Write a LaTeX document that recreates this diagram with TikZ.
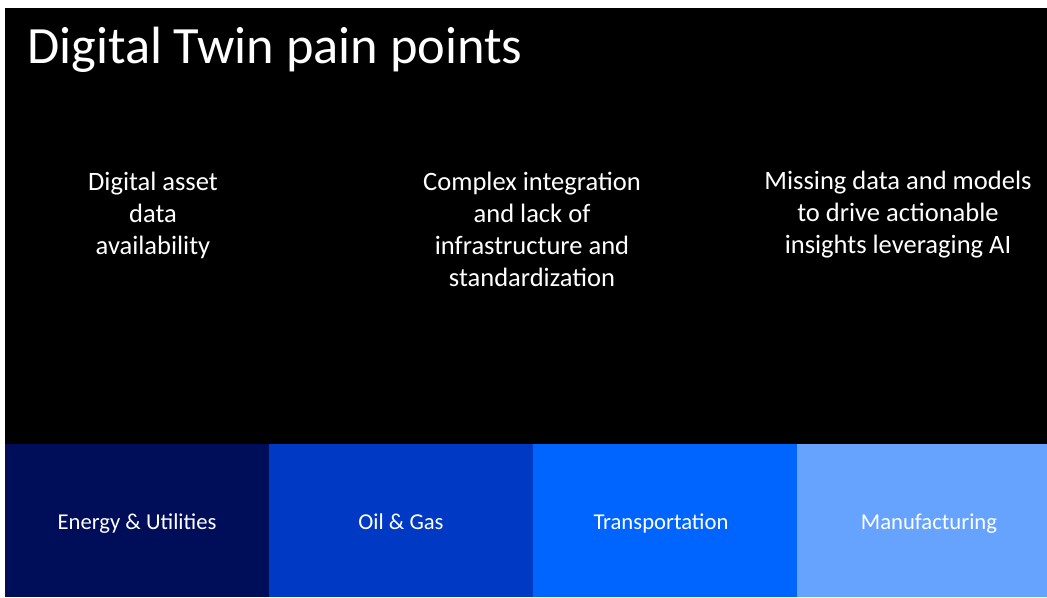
\documentclass[tikz,border=0pt]{standalone}
\usepackage{fontspec}
\setmainfont{Carlito}
\usepackage{tikz}
\usetikzlibrary{positioning}

\definecolor{navyband}{RGB}{0,14,90}
\definecolor{oilband}{RGB}{0,58,196}
\definecolor{transband}{RGB}{0,100,255}
\definecolor{manuband}{RGB}{102,163,255}

\begin{document}
\begin{tikzpicture}[x=0.75pt, y=-0.75pt]
          \tikzstyle{pain} = [text=white, align=center, font=\fontsize{19.9}{24}\selectfont, inner sep=0pt]
          \tikzstyle{sector} = [text=white, anchor=base, font=\fontsize{17}{20}\selectfont, inner sep=0pt]

          \useasboundingbox (0,0) rectangle (1047,597);
          \fill[white] (0,0) rectangle (1047,597);
          \fill[black] (5,8) rectangle (1047,444);

          % sector bands
          \fill[navyband] (5,444) rectangle (269,597);
          \fill[oilband] (269,444) rectangle (533,597);
          \fill[transband] (533,444) rectangle (797,597);
          \fill[manuband] (797,444) rectangle (1047,597);

          \node[text=white, anchor=base west, inner sep=0pt,
            font=\fontsize{39.3}{47}\selectfont] (title) at (27,63)
            {Digital Twin pain points};

          \node[pain] (asset) at (153,215)
            {Digital asset\\ data\\ availability};
            \node[pain] (integration) at (532,229)
            {Complex integration\\ and lack of\\ infrastructure and\\ standardization};
              \node[pain] (insights) at (898,215)
                {Missing data and models\\ to drive actionable\\ insights leveraging AI};

          \node[sector] (energy) at (137,529) {Energy \& Utilities};
          \node[sector] (oil) at (401,529) {Oil \& Gas};
          \node[sector] (transport) at (661,529) {Transportation};
          \node[sector] (manufacturing) at (929,529) {Manufacturing};
        \end{tikzpicture}
\end{document}
